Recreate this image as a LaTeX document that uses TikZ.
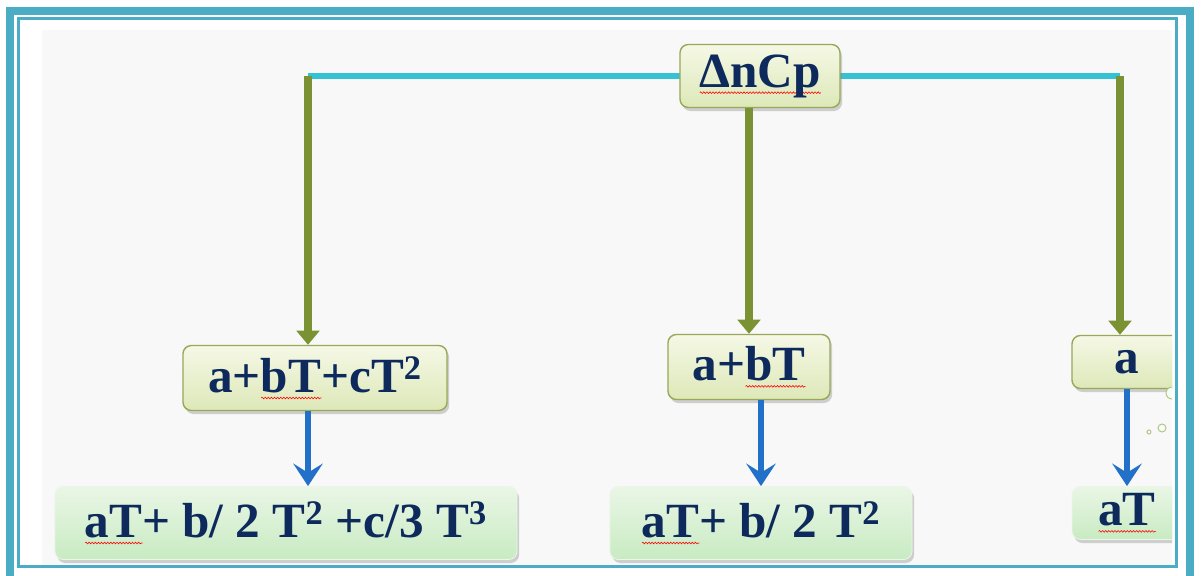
\documentclass[tikz,border=0pt]{standalone}
\usepackage{fontspec}
\setmainfont{Liberation Serif}
\usepackage{tikz}
\usetikzlibrary{arrows.meta,positioning,shadows,calc,decorations.pathmorphing}
\definecolor{frameTeal}{HTML}{4BACC6}
\definecolor{lineCyan}{HTML}{35C2D4}
\definecolor{arrowOlive}{HTML}{7A9234}
\definecolor{arrowBlue}{HTML}{2270C8}
\definecolor{textNavy}{HTML}{0E2A5C}
\definecolor{boxEdge}{HTML}{97A858}
\definecolor{boxTop}{HTML}{F5F8E6}
\definecolor{boxBottom}{HTML}{DDE8B8}
\definecolor{intTop}{HTML}{EAF6E6}
\definecolor{intBottom}{HTML}{C8EBC2}
\definecolor{paperGray}{HTML}{F8F8F8}
% red spell-check squiggle
\newlength\spellwd
\newcommand\spellmark[1]{\settowidth\spellwd{#1}\rlap{\tikz[x=1pt,y=1pt,baseline=0pt,sharp corners]\draw[red,line width=0.4pt,decorate,decoration={snake,amplitude=0.6pt,segment length=2.2pt}] (0,-4) -- (\spellwd,-4);}#1}
\tikzset{
  termbox/.style={rounded corners=6pt, draw=boxEdge, line width=1pt,
    top color=boxTop, bottom color=boxBottom,
    drop shadow={shadow xshift=1.5pt, shadow yshift=-2.5pt, opacity=0.35},
    text=textNavy, font=\fontsize{35}{38}\selectfont\bfseries},
  intbox/.style={rounded corners=6pt, draw=intTop, line width=0.6pt,
    top color=intTop, bottom color=intBottom,
    drop shadow={shadow xshift=1.5pt, shadow yshift=-2.5pt, opacity=0.35},
    text=textNavy, font=\fontsize{35}{38}\selectfont\bfseries},
  cyanline/.style={lineCyan, line width=3.6pt},
  olivearrow/.style={arrowOlive, line width=5.5pt, -{Triangle[length=10pt,width=16pt]}},
  bluearrow/.style={arrowBlue, line width=4.2pt, -{Stealth[length=16pt,width=21pt,inset=6.5pt]}},
  bubble/.style={draw=boxEdge!70, fill=green!5!white, line width=0.7pt}
}
\begin{document}
\begin{tikzpicture}[x=0.025cm,y=-0.025cm]
    \useasboundingbox (0,0) rectangle (1203,576);
    % Frame
    \fill[white] (0,0) rectangle (1203,576);
    \draw[frameTeal, line width=5.7pt] (10,11) rectangle (1190,580);
    \draw[frameTeal, line width=1.8pt] (18.5,18.5) rectangle (1176.5,566.5);
    \fill[paperGray] (42,30) rectangle (1172,565);
    \begin{scope}
    \clip (20,20) rectangle (1172,565);
    % Nodes
    \coordinate (lft) at (308,76);
    \coordinate (rgt) at (1120,76);
    \draw[cyanline] (lft) -- (rgt);
    \node[termbox, minimum width=4cm, minimum height=1.575cm] (top) at (760,76) {\spellmark{ΔnCp}};
    \node[termbox, minimum width=6.6cm, minimum height=1.625cm] (quad) at (315,378) {a+\spellmark{bT}+cT\textsuperscript{2}};
    \node[termbox, minimum width=4.05cm, minimum height=1.625cm] (lin) at (749,367) {a+\spellmark{bT}};
    \node[termbox, minimum width=2.75cm, minimum height=1.325cm] (const) at (1127,362) {a};
    \node[intbox, minimum width=11.55cm, minimum height=1.825cm] (cubic) at (286,523) {\spellmark{aT}+ b/ 2 T\textsuperscript{2} +c/3 T\textsuperscript{3}};
    \node[intbox, minimum width=7.55cm, minimum height=1.825cm] (quadres) at (761,523) {\spellmark{aT}+ b/ 2 T\textsuperscript{2}};
    \node[intbox, minimum width=2.75cm, minimum height=1.325cm] (constres) at (1127,513) {\spellmark{aT}};
    % Arrows
    \draw[olivearrow] (lft) -- (lft |- quad.north);
    \draw[olivearrow] (top.south -| lin.north) -- (lin.north);
    \draw[olivearrow] (rgt) -- (rgt |- const.north);
    \draw[bluearrow] (lft |- quad.south) -- (lft |- cubic.north);
    \draw[bluearrow] (quadres.north |- lin.south) -- (quadres.north);
    \draw[bluearrow] (const.south) -- (constres.north);
    % Bubbles
    \draw[bubble] (1172,393) circle (6);
    \draw[bubble] (1162,428) circle (4);
    \draw[bubble] (1149,432) circle (2);
    \end{scope}
\end{tikzpicture}
\end{document}
